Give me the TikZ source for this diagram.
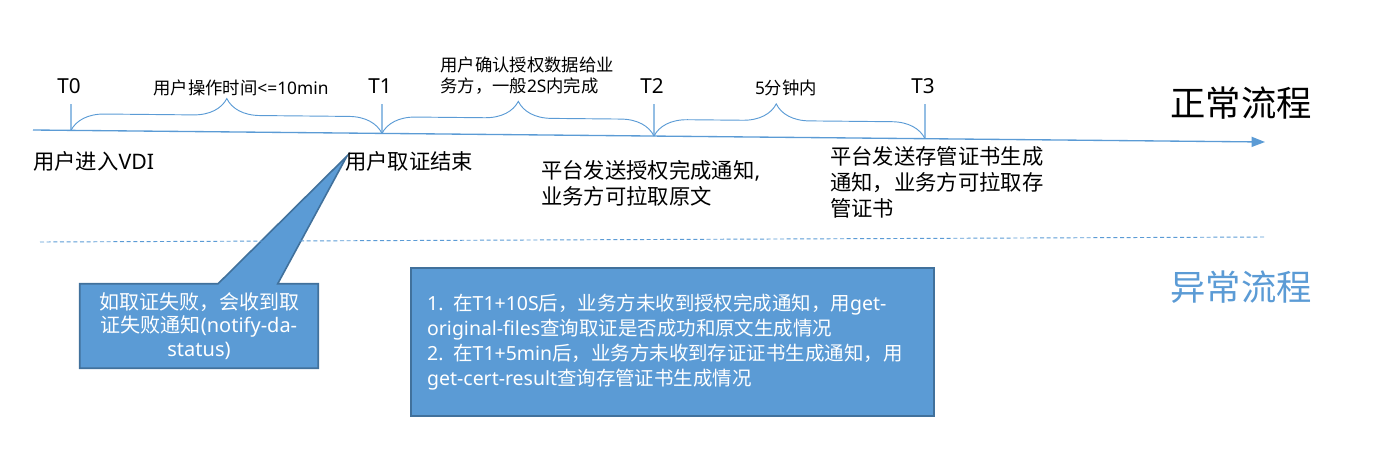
\documentclass[tikz,border=0pt]{standalone}
\usepackage{fontspec}
\setmainfont{Noto Sans}
\newfontfamily\cjkfont{Noto Sans CJK SC}
% switch to the CJK family for Chinese characters
\XeTeXinterchartokenstate=1
\newXeTeXintercharclass\cjkclass
\newcount\cjkcode
\cjkcode="3000
\loop\XeTeXcharclass\cjkcode=\cjkclass
  \ifnum\cjkcode<"303F \advance\cjkcode by 1 \repeat
\cjkcode="4E00
\loop\XeTeXcharclass\cjkcode=\cjkclass
  \ifnum\cjkcode<"9FFF \advance\cjkcode by 1 \repeat
\cjkcode="FF00
\loop\XeTeXcharclass\cjkcode=\cjkclass
  \ifnum\cjkcode<"FFEF \advance\cjkcode by 1 \repeat
\XeTeXinterchartoks 0 \cjkclass = {\begingroup\cjkfont}
\XeTeXinterchartoks 4095 \cjkclass = {\begingroup\cjkfont}
\XeTeXinterchartoks \cjkclass 0 = {\endgroup}
\XeTeXinterchartoks \cjkclass 4095 = {\endgroup}
\usepackage{xcolor}
\usetikzlibrary{arrows.meta, decorations.pathreplacing, backgrounds, positioning, calc}
\definecolor{officeblue}{HTML}{5B9BD5}
\definecolor{boxline}{HTML}{41719C}
\tikzset{timeline/.style={draw=officeblue,line width=1pt},
    tickline/.style={draw=officeblue,line width=0.8pt},
    span brace/.style={draw=officeblue,line width=0.7pt,decorate,
        decoration={brace,amplitude=25pt}},
    moment/.style={inner sep=0pt,font=\fontsize{15.5}{19}\selectfont},
    span label/.style={inner sep=0pt,font=\fontsize{13}{15.75}\selectfont},
    event/.style={anchor=north west,inner sep=0pt,align=left,
        font=\fontsize{16}{19.5}\selectfont},
    flow title/.style={inner sep=0pt,font=\fontsize{26.5}{30}\selectfont},
    separator/.style={draw=officeblue,line width=0.7pt,dash pattern=on 3pt off 2pt},
    note box/.style={rectangle,text=white,align=center,minimum width=178.5pt,
        minimum height=63pt,font=\fontsize{15}{17.6}\selectfont},
    note outline/.style={fill=officeblue,draw=boxline,line width=1.2pt,line join=miter},
    hint box/.style={rectangle,fill=officeblue,draw=boxline,line width=1.2pt,
        text=white,align=left,text width=368pt,inner xsep=12pt,
        minimum height=111pt,font=\fontsize{14.6}{18.9}\selectfont}}
\begin{document}
\begin{tikzpicture}[x=0.75pt,y=-0.75pt]
  \useasboundingbox (0,0) rectangle (1396,454);

  % the time axis
  \coordinate (axis start) at (33,130);
  \coordinate (axis end) at (1265,142);
  \draw[timeline,-{Triangle[length=10pt,width=7.5pt]}] (axis start) -- (axis end);

  % moments T0 .. T3 and their ticks
  \foreach \name/\x in {0/71, 1/382, 2/654, 3/925}{
    \coordinate (t\name) at ($(axis start)!{(\x-33)/1232}!(axis end)$);
    \coordinate (top\name) at (\x,104);
    \draw[tickline] (t\name) -- (top\name);
    \node[moment] (T\name) at (\x-2,86) {T\name};
  }

  % braces between the moments
  \draw[span brace] (t0) -- (t1);
  \draw[span brace] (t1) -- (t2);
  \draw[span brace,decoration={aspect=0.45}] (t2) -- (t3);

  \node[span label] (span01) at (241,88) {用户操作时间<=10min};
  \node[span label,align=left] (span12) at (527,76) {用户确认授权数据给业\\务方，一般2S内完成};
  \node[span label] (span23) at (786,88) {5分钟内};

  % what happens at each moment
  \node[event] (enter) at (33,151) {用户进入VDI};
  \node[event] (fetchend) at (345,151) {用户取证结束};
  \node[event] (authdone) at (541,160) {平台发送授权完成通知,\\业务方可拉取原文};
  \node[event] (certdone) at (830,146) {平台发送存管证书生成\\通知，业务方可拉取存\\管证书};

  % titles and the line between them
  \node[flow title] (normal) at (1241,103) {正常流程};
  \node[flow title,text=officeblue] (abnormal) at (1241,287) {异常流程};
  \coordinate (sep start) at (40,242);
  \coordinate (sep end) at (1265,237);
  \draw[separator] (sep start) -- (sep end);

  % what to do when something fails
  \node[note box] (failnote) at (199,326)
    {如取证失败，会收到取\\证失败通知(notify-da-\\status)};
  \begin{scope}[on background layer]
    \draw[note outline] (failnote.north west)
      -- ($(failnote.north west)!0.58!(failnote.north east)$)
      -- ($(fetchend.north west)+(2,5)$)
      -- ($(failnote.north west)!0.83!(failnote.north east)$)
      -- (failnote.north east) -- (failnote.south east)
      -- (failnote.south west) -- cycle;
  \end{scope}
  \node[hint box] (hintbox) at (672.5,342)
    {1. 在T1+10S后，业务方未收到授权完成通知，用get-\\original-files查询取证是否成功和原文生成情况\\2. 在T1+5min后，业务方未收到存证证书生成通知，用\\get-cert-result查询存管证书生成情况};

\end{tikzpicture}
\end{document}
